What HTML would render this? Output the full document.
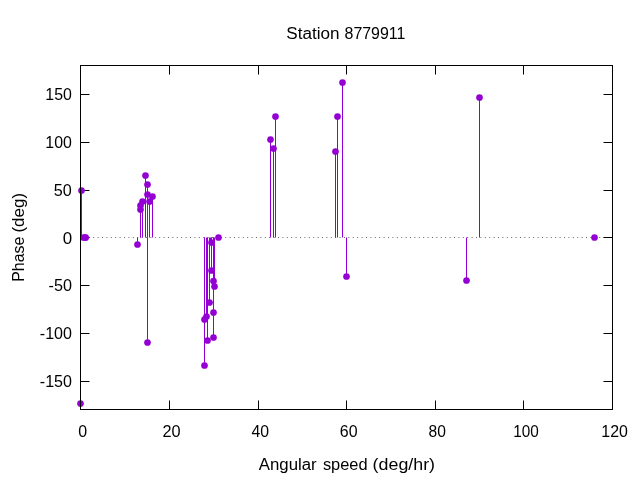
<!DOCTYPE html>
<html lang="en"><head><meta charset="utf-8"><title>Station 8779911</title>
<style>html,body{margin:0;padding:0;background:#fff;overflow:hidden}svg{display:block;will-change:transform}text{font-family:"Liberation Sans", sans-serif;font-size:16px;fill:#000}</style></head><body>
<svg width="640" height="480" viewBox="0 0 640 480">
<rect width="640" height="480" fill="#fff"/>
<path d="M80.5 94.5h9M612.5 94.5h-9M80.5 142.5h9M612.5 142.5h-9M80.5 190.5h9M612.5 190.5h-9M80.5 237.5h9M612.5 237.5h-9M80.5 285.5h9M612.5 285.5h-9M80.5 333.5h9M612.5 333.5h-9M80.5 381.5h9M612.5 381.5h-9M80.5 409.5v-9M80.5 65.5v9M169.5 409.5v-9M169.5 65.5v9M258.5 409.5v-9M258.5 65.5v9M346.5 409.5v-9M346.5 65.5v9M435.5 409.5v-9M435.5 65.5v9M523.5 409.5v-9M523.5 65.5v9M612.5 409.5v-9M612.5 65.5v9" stroke="#000" stroke-width="1" fill="none"/>
<path d="M80 237.5H612.5" stroke="#000" stroke-width="0.6" stroke-dasharray="1 3.4" fill="none"/>
<path d="M80.5 237.5V403.5M81.5 237.5V190.5M137.5 237.5V244.5M140.5 237.5V209.5M140.5 237.5V205.5M142.5 237.5V201.5M145.5 237.5V175.5M147.5 237.5V184.5M147.5 237.5V342.5M147.5 237.5V194.5M149.5 237.5V201.5M152.5 237.5V196.5M204.5 237.5V319.5M204.5 237.5V365.5M206.5 237.5V316.5M207.5 237.5V340.5M209.5 237.5V302.5M211.5 237.5V270.5M211.5 237.5V242.5M213.5 237.5V312.5M213.5 237.5V337.5M213.5 237.5V281.0M214.5 237.5V286.5M270.5 237.5V139.5M273.5 237.5V148.5M275.5 237.5V116.5M335.5 237.5V151.5M337.5 237.5V116.5M342.5 237.5V82.5M346.5 237.5V276.5M466.5 237.5V280.5M479.5 237.5V97.5M210.5 237.5V240.5" stroke="#9400d3" stroke-width="1" fill="none"/>
<g fill="#9400d3">
<circle cx="80.5" cy="403.5" r="3.35"/>
<circle cx="81.5" cy="190.5" r="3.35"/>
<circle cx="83.5" cy="237.5" r="3.35"/>
<circle cx="85.5" cy="237.5" r="3.35"/>
<circle cx="85.5" cy="237.5" r="3.35"/>
<circle cx="137.5" cy="244.5" r="3.35"/>
<circle cx="140.5" cy="209.5" r="3.35"/>
<circle cx="140.5" cy="205.5" r="3.35"/>
<circle cx="142.5" cy="201.5" r="3.35"/>
<circle cx="145.5" cy="175.5" r="3.35"/>
<circle cx="147.5" cy="184.5" r="3.35"/>
<circle cx="147.5" cy="342.5" r="3.35"/>
<circle cx="147.5" cy="194.5" r="3.35"/>
<circle cx="149.5" cy="201.5" r="3.35"/>
<circle cx="152.5" cy="196.5" r="3.35"/>
<circle cx="204.5" cy="319.5" r="3.35"/>
<circle cx="204.5" cy="365.5" r="3.35"/>
<circle cx="206.5" cy="316.5" r="3.35"/>
<circle cx="207.5" cy="340.5" r="3.35"/>
<circle cx="209.5" cy="302.5" r="3.35"/>
<circle cx="211.5" cy="270.5" r="3.35"/>
<circle cx="211.5" cy="242.5" r="3.35"/>
<circle cx="213.5" cy="312.5" r="3.35"/>
<circle cx="213.5" cy="337.5" r="3.35"/>
<circle cx="213.5" cy="281.0" r="3.35"/>
<circle cx="214.5" cy="286.5" r="3.35"/>
<circle cx="218.5" cy="237.5" r="3.35"/>
<circle cx="270.5" cy="139.5" r="3.35"/>
<circle cx="273.5" cy="148.5" r="3.35"/>
<circle cx="275.5" cy="116.5" r="3.35"/>
<circle cx="335.5" cy="151.5" r="3.35"/>
<circle cx="337.5" cy="116.5" r="3.35"/>
<circle cx="342.5" cy="82.5" r="3.35"/>
<circle cx="346.5" cy="276.5" r="3.35"/>
<circle cx="466.5" cy="280.5" r="3.35"/>
<circle cx="479.5" cy="97.5" r="3.35"/>
<circle cx="594.5" cy="237.5" r="3.35"/>
</g>
<rect x="80.5" y="65.5" width="532.0" height="344.0" fill="none" stroke="#000" stroke-width="1"/>
<text x="45.30" y="100" textLength="26.51" lengthAdjust="spacingAndGlyphs">150</text>
<text x="45.30" y="148" textLength="26.51" lengthAdjust="spacingAndGlyphs">100</text>
<text x="53.87" y="196" textLength="17.99" lengthAdjust="spacingAndGlyphs">50</text>
<text x="62.69" y="244" textLength="9.40" lengthAdjust="spacingAndGlyphs">0</text>
<text x="48.60" y="291" textLength="23.38" lengthAdjust="spacingAndGlyphs">-50</text>
<text x="39.83" y="339" textLength="32.11" lengthAdjust="spacingAndGlyphs">-100</text>
<text x="39.83" y="387" textLength="32.11" lengthAdjust="spacingAndGlyphs">-150</text>
<text x="78.37" y="437" textLength="8.88" lengthAdjust="spacingAndGlyphs">0</text>
<text x="162.41" y="437" textLength="18.11" lengthAdjust="spacingAndGlyphs">20</text>
<text x="251.40" y="437" textLength="17.53" lengthAdjust="spacingAndGlyphs">40</text>
<text x="339.77" y="437" textLength="17.72" lengthAdjust="spacingAndGlyphs">60</text>
<text x="428.50" y="437" textLength="17.34" lengthAdjust="spacingAndGlyphs">80</text>
<text x="513.21" y="437" textLength="25.52" lengthAdjust="spacingAndGlyphs">100</text>
<text x="601.30" y="437" textLength="26.57" lengthAdjust="spacingAndGlyphs">120</text>
<text y="39"><tspan x="286.33" textLength="53.18" lengthAdjust="spacingAndGlyphs">Station</tspan> <tspan x="344.55" textLength="60.80" lengthAdjust="spacingAndGlyphs">8779911</tspan></text>
<text y="470"><tspan x="258.81" textLength="57.88" lengthAdjust="spacingAndGlyphs">Angular</tspan> <tspan x="322.91" textLength="44.66" lengthAdjust="spacingAndGlyphs">speed</tspan> <tspan x="372.64" textLength="62.41" lengthAdjust="spacingAndGlyphs">(deg/hr)</tspan></text>
<text transform="translate(24,0) rotate(-90)" y="0"><tspan x="-281.78" textLength="45.11" lengthAdjust="spacingAndGlyphs">Phase</tspan> <tspan x="-232.58" textLength="39.64" lengthAdjust="spacingAndGlyphs">(deg)</tspan></text>
</svg></body></html>
